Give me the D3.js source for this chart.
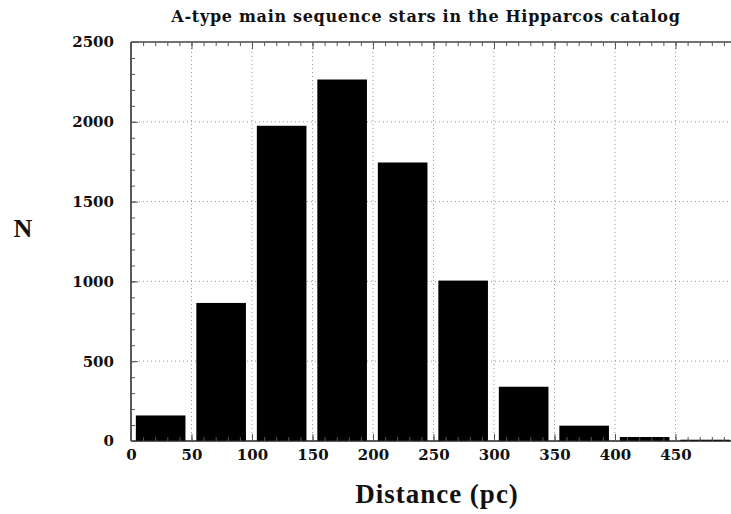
<!DOCTYPE html>
<html>
<head>
<meta charset="utf-8">
<script src="https://cdn.jsdelivr.net/npm/d3@7"></script>
<style>
  html, body { margin: 0; padding: 0; background: #fff; }
  svg { display: block; }
  text { font-family: "Liberation Serif", "DejaVu Serif", serif; font-weight: bold; fill: #111; }
</style>
</head>
<body>
<script>
// ---- data ----
const binStarts = [0, 50, 100, 150, 200, 250, 300, 350, 400, 450];
const binWidth = 50;
const counts = [160, 865, 1975, 2265, 1745, 1005, 340, 96, 25, 8];
const xTicks = [0, 50, 100, 150, 200, 250, 300, 350, 400, 450];
const yTicks = [0, 500, 1000, 1500, 2000, 2500];
const titleText = "A-type main sequence stars in the Hipparcos catalog";
const xLabel = "Distance (pc)";
const yLabel = "N";

const W = 731, H = 514;
const plotLeft = 131, plotRight = 736; // right edge of plot lies just outside the picture

const x = d3.scaleLinear().domain([0, 500]).range([plotLeft, plotRight]);
const y = d3.scaleLinear().domain([0, 2500]).range([441, 42]);

const svg = d3.select("body").append("svg").attr("width", W).attr("height", H);

svg.append("defs").append("clipPath").attr("id", "clip")
  .append("rect").attr("x", x(0)).attr("y", y(2500)).attr("width", W - x(0)).attr("height", y(0) - y(2500));

// grid
const grid = svg.append("g").attr("clip-path", "url(#clip)");
grid.selectAll("line.vg").data(xTicks.filter(d => d > 0)).enter().append("line")
  .attr("x1", d => x(d)).attr("x2", d => x(d)).attr("y1", y(0)).attr("y2", y(2500))
  .attr("stroke", "#999").attr("stroke-width", 1).attr("stroke-dasharray", "1,3");
grid.selectAll("line.hg").data(yTicks.filter(d => d > 0 && d < 2500)).enter().append("line")
  .attr("x1", x(0)).attr("x2", W).attr("y1", d => y(d)).attr("y2", d => y(d))
  .attr("stroke", "#999").attr("stroke-width", 1).attr("stroke-dasharray", "1,3");

// bars
const bars = binStarts.map((s, i) => ({ x0: s, x1: s + binWidth, n: counts[i] }));
svg.append("g").attr("clip-path", "url(#clip)")
  .selectAll("rect").data(bars).enter().append("rect")
  .attr("x", d => x(d.x0 + 4))
  .attr("width", d => x(d.x0 + 45) - x(d.x0 + 4))
  .attr("y", d => y(d.n))
  .attr("height", d => y(0) - y(d.n))
  .attr("fill", "#000");

// frame
const frame = svg.append("g");
frame.append("line").attr("x1", x(0)).attr("x2", W).attr("y1", y(0)).attr("y2", y(0)).attr("stroke", "#222").attr("stroke-width", 1.5);
frame.append("line").attr("x1", x(0)).attr("x2", W).attr("y1", y(2500)).attr("y2", y(2500)).attr("stroke", "#444").attr("stroke-width", 1.5);
frame.append("line").attr("x1", x(0)).attr("x2", x(0)).attr("y1", y(0)).attr("y2", y(2500)).attr("stroke", "#222").attr("stroke-width", 1.5);

// inward ticks (axes via d3)
const xMinor = d3.range(0, 500, 10);
const yMinor = d3.range(0, 2501, 100);

function styleTicks(g) {
  g.select(".domain").remove();
  g.selectAll(".tick line").attr("stroke", "#555").attr("stroke-width", 1);
}
svg.append("g").attr("transform", `translate(0,${y(0)})`).call(d3.axisTop(x).tickValues(xMinor).tickSize(4).tickFormat("")).call(styleTicks);
svg.append("g").attr("transform", `translate(0,${y(0)})`).call(d3.axisTop(x).tickValues(xTicks).tickSize(7).tickFormat("")).call(styleTicks);
svg.append("g").attr("transform", `translate(0,${y(2500)})`).call(d3.axisBottom(x).tickValues(xMinor).tickSize(4).tickFormat("")).call(styleTicks);
svg.append("g").attr("transform", `translate(0,${y(2500)})`).call(d3.axisBottom(x).tickValues(xTicks).tickSize(7).tickFormat("")).call(styleTicks);
svg.append("g").attr("transform", `translate(${x(0)},0)`).call(d3.axisRight(y).tickValues(yMinor).tickSize(4).tickFormat("")).call(styleTicks);
svg.append("g").attr("transform", `translate(${x(0)},0)`).call(d3.axisRight(y).tickValues(yTicks).tickSize(7).tickFormat("")).call(styleTicks);

// tick labels
function styleLabels(g) {
  g.select(".domain").remove();
  g.selectAll("text").style("font-family", "'DejaVu Serif', serif").style("font-weight", "bold")
    .style("font-size", "15px").style("letter-spacing", "0px").attr("fill", "#111");
}
svg.append("g").attr("transform", `translate(0,${y(0)})`)
  .call(d3.axisBottom(x).tickValues(xTicks).tickSize(0).tickPadding(8).tickFormat(d3.format("d")))
  .call(styleLabels);
svg.append("g").attr("transform", `translate(${x(0)},0)`)
  .call(d3.axisLeft(y).tickValues(yTicks).tickSize(0).tickPadding(17).tickFormat(d3.format("d")))
  .call(styleLabels);

// titles
svg.append("text").attr("x", 426).attr("y", 22).attr("text-anchor", "middle")
  .style("font-family", "'DejaVu Serif', serif").style("font-size", "16px").style("letter-spacing", "0.7px").text(titleText);
svg.append("text").attr("x", 437).attr("y", 503).attr("text-anchor", "middle")
  .style("font-size", "27px").style("letter-spacing", "1px").text(xLabel);
svg.append("text").attr("x", 23).attr("y", 237).attr("text-anchor", "middle")
  .style("font-size", "26px").text(yLabel);
</script>
</body>
</html>
